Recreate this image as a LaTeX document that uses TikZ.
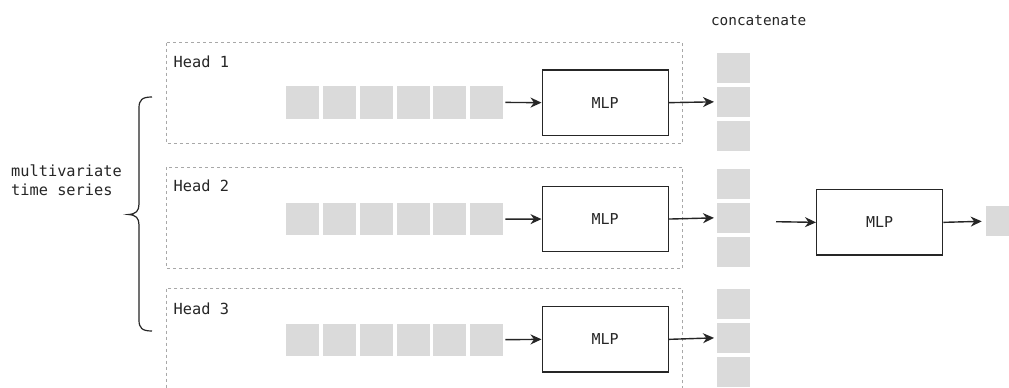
\documentclass[tikz,border=0pt]{standalone}
\usepackage{fontspec}
\setmonofont{DejaVu Sans Mono}
\usetikzlibrary{arrows.meta}
\definecolor{cellgray}{HTML}{DADADA}
\definecolor{dashgray}{HTML}{A8A8A8}
\definecolor{ink}{HTML}{262626}
\tikzset{
 cell/.style={fill=cellgray, draw=none, minimum width=33pt, minimum height=32.4pt, inner sep=0pt, anchor=north west},
 ccell/.style={fill=cellgray, draw=none, minimum width=33pt, minimum height=30pt, inner sep=0pt, anchor=north west},
 mlp/.style={draw=ink, line width=1.3pt, fill=white, minimum width=126pt, minimum height=65.4pt, inner sep=0pt, anchor=north west, font=\ttfamily\fontsize{15}{18}\selectfont, text=ink},
 headbox/.style={draw=dashgray, line width=1pt, dash pattern=on 3pt off 3pt},
 conn/.style={draw=ink, line width=1.4pt, -{Stealth[length=11pt,width=10pt,inset=3.5pt]}},
 lbl/.style={font=\ttfamily\fontsize{15.3}{19}\selectfont, inner sep=0pt, anchor=base west, text=ink},
 brace/.style={draw=ink, line width=1.2pt}
}
\begin{document}
\begin{tikzpicture}[x=1pt,y=-1pt]
\clip (0,0) rectangle (1009,388);
\fill[white] (0,0) rectangle (1009,388);

% head group boxes
\draw[headbox] (166.7,42.7) rectangle (682.5,143.5);
\draw[headbox] (166.7,167) rectangle (682.5,268.7);
\draw[headbox] (166.7,288.5) rectangle (682.5,420);

\node[lbl] (h1) at (173.5,67.5) {Head 1};
\node[lbl] (h2) at (173.5,191.7) {Head 2};
\node[lbl] (h3) at (173.5,314) {Head 3};

% input sequences
\foreach \r/\y in {1/86, 2/202.7, 3/323.3} {
  \foreach \c in {1,...,6} {
    \node[cell] (r\r c\c) at ({286+(\c-1)*36.8},\y) {};
  }
}

% head MLPs
\node[mlp] (mlp1) at (541.5,69.3) {MLP};
\node[mlp] (mlp2) at (541.5,185.7) {MLP};
\node[mlp] (mlp3) at (541.5,306) {MLP};

% concatenated cells
\foreach \g/\ya/\yb/\yc in {1/53/86.6/120.3, 2/169/202.6/236.3, 3/289/322.6/356.3} {
  \node[ccell] (cat\g a) at (716.5,\ya) {};
  \node[ccell] (cat\g b) at (716.5,\yb) {};
  \node[ccell] (cat\g c) at (716.5,\yc) {};
}

\node[font=\ttfamily\fontsize{14.4}{18}\selectfont, inner sep=0pt, anchor=base, text=ink] (concat) at (758.7,25) {concatenate};

% arrows into and out of the head MLPs
\foreach \r in {1,2,3} {
  \draw[conn, shorten <=2pt] (r\r c6.east) -- (mlp\r.west);
  \draw[conn, shorten >=2.5pt] (mlp\r.east) -- (cat\r b.west);
}

% final MLP
\node[mlp] (fmlp) at (816,189) {MLP};
\coordinate (fin) at (776,221.7);
\node[ccell] (fout) at (985.7,206) {};
\draw[conn] (fin) -- (fmlp.west);
\draw[conn, shorten >=4pt] (fmlp.east) -- (fout.west);

% brace and label
\draw[brace] (152,97) .. controls (142,97) and (139,100) .. (139,108)
  -- (139,204) .. controls (139,211) and (136,214) .. (128.5,214.5)
  .. controls (136,215) and (139,218) .. (139,225)
  -- (139,320) .. controls (139,328) and (142,331) .. (152,331);
\node[lbl] (mts1) at (11,176.7) {multivariate};
\node[lbl] (mts2) at (11,195.7) {time series};
\end{tikzpicture}
\end{document}
